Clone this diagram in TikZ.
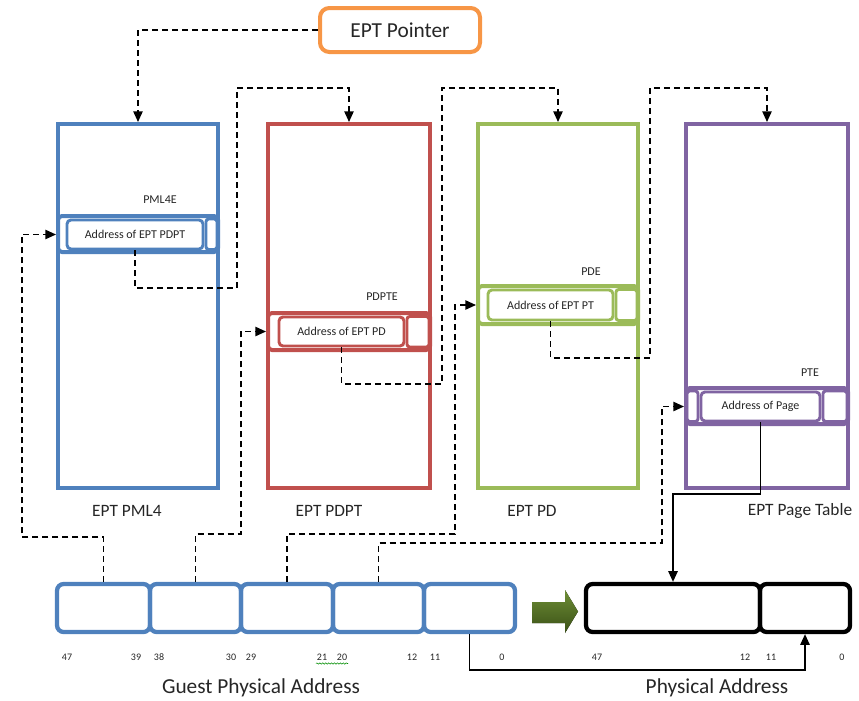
\documentclass[tikz,border=0pt]{standalone}
\usepackage{fontspec}
\setmainfont{Carlito}
\usetikzlibrary{arrows.meta,decorations.pathmorphing,calc}
\definecolor{cblue}{HTML}{4F81BD}
\definecolor{cred}{HTML}{C0504D}
\definecolor{cgreen}{HTML}{9BBB59}
\definecolor{cpurple}{HTML}{8064A2}
\definecolor{corange}{HTML}{F79646}
\definecolor{ctext}{HTML}{262626}
\definecolor{olivelt}{HTML}{6E8E36}
\definecolor{olivedk}{HTML}{3A5016}
\begin{document}
\begin{tikzpicture}[x=0.75pt,y=-0.75pt,
  every node/.style={text=ctext},
  tbl/.style={draw, line width=3pt, inner sep=0pt, minimum height=273pt},
  rowbox/.style={line width=3pt, rounded corners=3pt},
  entry/.style={draw, line width=2.2pt, rounded corners=3pt, inner sep=0pt, fill=white,
    minimum height=21.75pt, font=\fontsize{9}{10}\selectfont},
  sidecell/.style={line width=2.2pt, rounded corners=2pt},
  lbl/.style={font=\fontsize{9}{10}\selectfont},
  title/.style={font=\fontsize{13}{15}\selectfont},
  big/.style={font=\fontsize{16}{18}\selectfont},
  bit/.style={font=\fontsize{7.5}{9}\selectfont},
  gcell/.style={draw=cblue, line width=3.2pt, rounded corners=5pt, inner sep=0pt, minimum height=36pt},
  pcell/.style={draw=black, line width=3.2pt, rounded corners=5pt, inner sep=0pt, minimum height=36pt},
  tip/.style={-{Triangle[length=8pt,width=7pt]}},
  dline/.style={draw=black, line width=1.1pt, dash pattern=on 4.5pt off 3pt, tip},
  sline/.style={draw=black, line width=1.1pt, tip}
]
\useasboundingbox (0,0) rectangle (859,700);

% EPT Pointer
\node[draw=corange, line width=3pt, rounded corners=7pt, minimum width=120pt, minimum height=33pt,
  inner sep=0pt, big] (ept) at (400,30) {EPT Pointer};

% Tables
\node[tbl, draw=cblue, minimum width=120pt] (pml4) at (138,306) {};
\node[tbl, draw=cred, minimum width=121.5pt] (pdpt) at (349,306) {};
\node[tbl, draw=cgreen, minimum width=120pt] (pd) at (558,306) {};
\node[tbl, draw=cpurple, minimum width=121.5pt] (pt) at (767,306) {};

% Entry rows
\draw[rowbox, cblue] (58,216) rectangle (218,252);
\draw[sidecell, cblue] (206,219) rectangle (217,249.5);
\node[entry, draw=cblue, minimum width=102pt] (pml4e) at (135,234.5) {Address of EPT PDPT};

\draw[rowbox, cred] (268,313) rectangle (430,350);
\draw[sidecell, cred] (407,316.5) rectangle (429,347);
\node[entry, draw=cred, minimum width=93.75pt] (pdpte) at (341.5,331.5) {Address of EPT PD};

\draw[rowbox, cgreen] (478,286) rectangle (638,324);
\draw[sidecell, cgreen] (616,289.5) rectangle (637,320.5);
\node[entry, draw=cgreen, minimum width=93.75pt, minimum height=22.5pt] (pde) at (550.5,305) {Address of EPT PT};

\draw[rowbox, cpurple] (686,388) rectangle (848,424);
\draw[sidecell, cpurple] (687,391) rectangle (698,421.5);
\draw[sidecell, cpurple] (823,391) rectangle (847,421.5);
\node[entry, draw=cpurple, minimum width=89.25pt] (pte) at (760.5,406.5) {Address of Page};

% Entry labels
\node[lbl] (l1) at (160,200) {PML4E};
\node[lbl] (l2) at (382,297) {PDPTE};
\node[lbl] (l3) at (591,272) {PDE};
\node[lbl] (l4) at (810,373) {PTE};

% Table titles
\node[title] (t1) at (127,511) {EPT PML4};
\node[title] (t2) at (329,511) {EPT PDPT};
\node[title] (t3) at (532,511) {EPT PD};
\node[title] (t4) at (800,511) {EPT Page Table};

% Guest physical address cells
\node[gcell, minimum width=69.75pt] (g1) at (103.5,608) {};
\node[gcell, minimum width=68.25pt] (g2) at (195.5,608) {};
\node[gcell, minimum width=69pt] (g3) at (287,608) {};
\node[gcell, minimum width=68.25pt] (g4) at (378.5,608) {};
\node[gcell, minimum width=68.25pt] (g5) at (469.5,608) {};

% Physical address cells
\node[pcell, minimum width=130.5pt] (p1) at (673,608) {};
\node[pcell, minimum width=67.5pt] (p2) at (805,608) {};

% Green arrow
\fill[top color=olivelt, bottom color=olivedk]
  (532,602) -- (565,602) -- (565,590) -- (578,611.5) -- (565,633) -- (565,623) -- (532,623) -- cycle;

% Bit labels
\node[bit] (b47) at (67,657) {47};
\node[bit] (b39) at (136,657) {39};
\node[bit] (b38) at (159,657) {38};
\node[bit] (b30) at (231,657) {30};
\node[bit] (b29) at (251,657) {29};
\node[bit] (b21) at (322,657) {21};
\node[bit] (b20) at (342,657) {20};
\node[bit] (b12) at (412,657) {12};
\node[bit] (b11) at (435,657) {11};
\node[bit] (b0) at (502,657) {0};
\draw[green!55!black, line width=0.4pt, decorate,
  decoration={snake, amplitude=0.5pt, segment length=2.2pt}] (316,663.5) -- (348,663.5);

\node[bit] (q47) at (597,657) {47};
\node[bit] (q12) at (745,657) {12};
\node[bit] (q11) at (771,657) {11};
\node[bit] (q0) at (842,657) {0};

\node[big] (gpa) at (261,688) {Guest Physical Address};
\node[big] (pa) at (717,688) {Physical Address};

% Dashed connectors: table walk
\draw[dline] (ept.west) -| (pml4.north);
\draw[dline] (pml4e.south) |- (237,288) -- (237,88) -| (pdpt.north);
\draw[dline] (pdpte.south) |- (442,384) -- (442,88) -| (pd.north);
\draw[dline] (pde.south) |- (650,358) -- (650,88) -| (pt.north);

% Dashed connectors: index bits
\draw[dline] (g1.north) |- (22,537) |- (pml4.west |- pml4e.center);
\draw[dline] (g2.north) |- (241,534) |- (pdpt.west |- pdpte.center);
\draw[dline] (g3.north) |- (455,534) |- (pd.west |- pde.center);
\draw[dline] (g4.north) |- (662,543) |- (pt.west |- pte.center);

% Solid connectors
\draw[sline] (pte.south) |- (673,494) -- (p1.north);
\draw[sline] (g5.south) |- (805,670) -- (p2.south);
\end{tikzpicture}
\end{document}
